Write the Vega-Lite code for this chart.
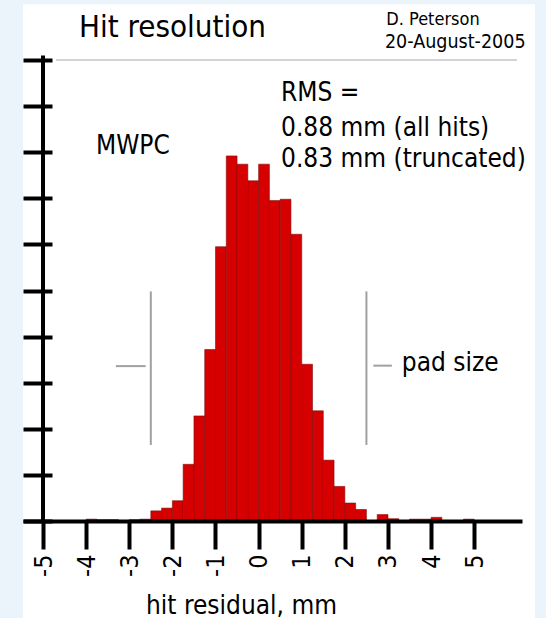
{
  "$schema": "https://vega.github.io/schema/vega-lite/v6.json",
  "width": 499,
  "height": 461,
  "autosize": {"type": "none"},
  "padding": {"left": 23, "top": 60, "right": 24, "bottom": 97},
  "background": "#ebf3fb",
  "config": {"view": {"stroke": null}, "font": "DejaVu Sans Condensed"},
  "datasets": {
    "hist": [
      {"bin_start": -4.0, "bin_end": -3.75, "count": 4},
      {"bin_start": -3.75, "bin_end": -3.5, "count": 3},
      {"bin_start": -3.5, "bin_end": -3.25, "count": 3},
      {"bin_start": -3.0, "bin_end": -2.75, "count": 3},
      {"bin_start": -2.75, "bin_end": -2.5, "count": 4},
      {"bin_start": -2.5, "bin_end": -2.25, "count": 22},
      {"bin_start": -2.25, "bin_end": -2.0, "count": 28},
      {"bin_start": -2.0, "bin_end": -1.75, "count": 44},
      {"bin_start": -1.75, "bin_end": -1.5, "count": 123},
      {"bin_start": -1.5, "bin_end": -1.25, "count": 228},
      {"bin_start": -1.25, "bin_end": -1.0, "count": 372},
      {"bin_start": -1.0, "bin_end": -0.75, "count": 595},
      {"bin_start": -0.75, "bin_end": -0.5, "count": 792},
      {"bin_start": -0.5, "bin_end": -0.25, "count": 774},
      {"bin_start": -0.25, "bin_end": 0.0, "count": 738},
      {"bin_start": 0.0, "bin_end": 0.25, "count": 774},
      {"bin_start": 0.25, "bin_end": 0.5, "count": 695},
      {"bin_start": 0.5, "bin_end": 0.75, "count": 698},
      {"bin_start": 0.75, "bin_end": 1.0, "count": 622},
      {"bin_start": 1.0, "bin_end": 1.25, "count": 340},
      {"bin_start": 1.25, "bin_end": 1.5, "count": 239},
      {"bin_start": 1.5, "bin_end": 1.75, "count": 132},
      {"bin_start": 1.75, "bin_end": 2.0, "count": 75},
      {"bin_start": 2.0, "bin_end": 2.25, "count": 39},
      {"bin_start": 2.25, "bin_end": 2.5, "count": 25},
      {"bin_start": 2.75, "bin_end": 3.0, "count": 14},
      {"bin_start": 3.0, "bin_end": 3.25, "count": 5},
      {"bin_start": 3.5, "bin_end": 3.75, "count": 4},
      {"bin_start": 3.75, "bin_end": 4.0, "count": 4},
      {"bin_start": 4.0, "bin_end": 4.25, "count": 8},
      {"bin_start": 4.75, "bin_end": 5.0, "count": 4}
    ],
    "one": [{}]
  },
  "layer": [
    {
      "data": {"name": "one"},
      "mark": {"type": "rect", "fill": "white"},
      "encoding": {
        "x": {"datum": -5.464, "type": "quantitative"},
        "x2": {"datum": 6.41},
        "y": {"datum": 1121, "type": "quantitative"},
        "y2": {"datum": -211}
      }
    },
    {
      "data": {"name": "one"},
      "mark": {"type": "rule", "color": "#c4c4c4", "strokeWidth": 1.5},
      "encoding": {
        "x": {"datum": -4.70, "type": "quantitative"},
        "x2": {"datum": 5.99},
        "y": {"datum": 1000, "type": "quantitative"}
      }
    },
    {
      "data": {"name": "one"},
      "mark": {"type": "rule", "color": "#a0a0a0", "strokeWidth": 2},
      "encoding": {
        "x": {"datum": -2.5, "type": "quantitative"},
        "y": {"datum": 165, "type": "quantitative"},
        "y2": {"datum": 498}
      }
    },
    {
      "data": {"name": "one"},
      "mark": {"type": "rule", "color": "#a0a0a0", "strokeWidth": 2},
      "encoding": {
        "x": {"datum": 2.5, "type": "quantitative"},
        "y": {"datum": 165, "type": "quantitative"},
        "y2": {"datum": 498}
      }
    },
    {
      "data": {"name": "one"},
      "mark": {"type": "rule", "color": "#a0a0a0", "strokeWidth": 2},
      "encoding": {
        "x": {"datum": -3.31, "type": "quantitative"},
        "x2": {"datum": -2.62},
        "y": {"datum": 336, "type": "quantitative"}
      }
    },
    {
      "data": {"name": "one"},
      "mark": {"type": "rule", "color": "#a0a0a0", "strokeWidth": 2},
      "encoding": {
        "x": {"datum": 2.66, "type": "quantitative"},
        "x2": {"datum": 3.09},
        "y": {"datum": 337, "type": "quantitative"}
      }
    },
    {
      "data": {"name": "hist"},
      "mark": {"type": "bar", "fill": "#d60000", "stroke": "#7a0a0a", "strokeWidth": 0.8, "strokeOpacity": 0.7},
      "encoding": {
        "x": {
          "field": "bin_start",
          "type": "quantitative",
          "scale": {"domain": [-5.464, 6.108], "nice": false, "zero": false, "padding": 0},
          "axis": {
            "values": [-5, -4, -3, -2, -1, 0, 1, 2, 3, 4, 5],
            "grid": false,
            "domainColor": "black",
            "domainWidth": 4,
            "tickColor": "black",
            "tickWidth": 4,
            "tickSize": 28,
            "labelAngle": 270,
            "labelFontSize": 25,
            "labelFont": "DejaVu Sans Condensed",
            "labelColor": "black",
            "labelPadding": 5,
            "labelFlush": false,
            "labelOverlap": false,
            "labelExpr": "datum.value < 0 ? '-' + abs(datum.value) : '' + datum.value",
            "title": "hit residual, mm",
            "titleFont": "DejaVu Sans Condensed",
            "titleFontSize": 26,
            "titleFontWeight": "normal",
            "titleColor": "black",
            "titleX": 218,
            "titleY": 92,
            "titleAlign": "center",
            "titleBaseline": "alphabetic",
            "zindex": 1
          }
        },
        "x2": {"field": "bin_end"},
        "y": {
          "field": "count",
          "type": "quantitative",
          "scale": {"domain": [0, 1000], "nice": false, "padding": 0},
          "axis": {
            "orient": "left",
            "offset": -29,
            "domain": false,
            "labels": false,
            "title": null,
            "grid": false,
            "values": [0, 100, 200, 300, 400, 500, 600, 700, 800, 900, 1000],
            "tickSize": 29,
            "tickWidth": 4,
            "tickColor": "black",
            "zindex": 1
          }
        },
        "y2": {"datum": 0}
      }
    },
    {
      "data": {"name": "one"},
      "mark": {"type": "rule", "color": "black", "strokeWidth": 4},
      "encoding": {
        "x": {"datum": -5, "type": "quantitative"},
        "y": {"datum": 0, "type": "quantitative"},
        "y2": {"datum": 1010}
      }
    },
    {
      "data": {"name": "one"},
      "mark": {"type": "text", "align": "left", "baseline": "alphabetic", "font": "DejaVu Sans Condensed", "fontSize": 31, "color": "black"},
      "encoding": {
        "x": {"datum": -4.165, "type": "quantitative"},
        "y": {"datum": 1050, "type": "quantitative"},
        "text": {"value": "Hit resolution"}
      }
    },
    {
      "data": {"name": "one"},
      "mark": {"type": "text", "align": "left", "baseline": "alphabetic", "font": "DejaVu Sans Condensed", "fontSize": 18, "color": "black"},
      "encoding": {
        "x": {"datum": 2.96, "type": "quantitative"},
        "y": {"datum": 1076, "type": "quantitative"},
        "text": {"value": "D. Peterson"}
      }
    },
    {
      "data": {"name": "one"},
      "mark": {"type": "text", "align": "left", "baseline": "alphabetic", "font": "DejaVu Sans Condensed", "fontSize": 19.5, "color": "black"},
      "encoding": {
        "x": {"datum": 2.93, "type": "quantitative"},
        "y": {"datum": 1026, "type": "quantitative"},
        "text": {"value": "20-August-2005"}
      }
    },
    {
      "data": {"name": "one"},
      "mark": {"type": "text", "align": "left", "baseline": "alphabetic", "font": "DejaVu Sans Condensed", "fontSize": 26, "color": "black"},
      "encoding": {
        "x": {"datum": 0.52, "type": "quantitative"},
        "y": {"datum": 911, "type": "quantitative"},
        "text": {"value": "RMS ="}
      }
    },
    {
      "data": {"name": "one"},
      "mark": {"type": "text", "align": "left", "baseline": "alphabetic", "font": "DejaVu Sans Condensed", "fontSize": 26, "color": "black"},
      "encoding": {
        "x": {"datum": 0.52, "type": "quantitative"},
        "y": {"datum": 835, "type": "quantitative"},
        "text": {"value": "0.88 mm (all hits)"}
      }
    },
    {
      "data": {"name": "one"},
      "mark": {"type": "text", "align": "left", "baseline": "alphabetic", "font": "DejaVu Sans Condensed", "fontSize": 26, "color": "black"},
      "encoding": {
        "x": {"datum": 0.52, "type": "quantitative"},
        "y": {"datum": 768, "type": "quantitative"},
        "text": {"value": "0.83 mm (truncated)"}
      }
    },
    {
      "data": {"name": "one"},
      "mark": {"type": "text", "align": "left", "baseline": "alphabetic", "font": "DejaVu Sans Condensed", "fontSize": 26, "color": "black"},
      "encoding": {
        "x": {"datum": -3.77, "type": "quantitative"},
        "y": {"datum": 796, "type": "quantitative"},
        "text": {"value": "MWPC"}
      }
    },
    {
      "data": {"name": "one"},
      "mark": {"type": "text", "align": "left", "baseline": "alphabetic", "font": "DejaVu Sans Condensed", "fontSize": 26, "color": "black"},
      "encoding": {
        "x": {"datum": 3.32, "type": "quantitative"},
        "y": {"datum": 325, "type": "quantitative"},
        "text": {"value": "pad size"}
      }
    }
  ]
}
